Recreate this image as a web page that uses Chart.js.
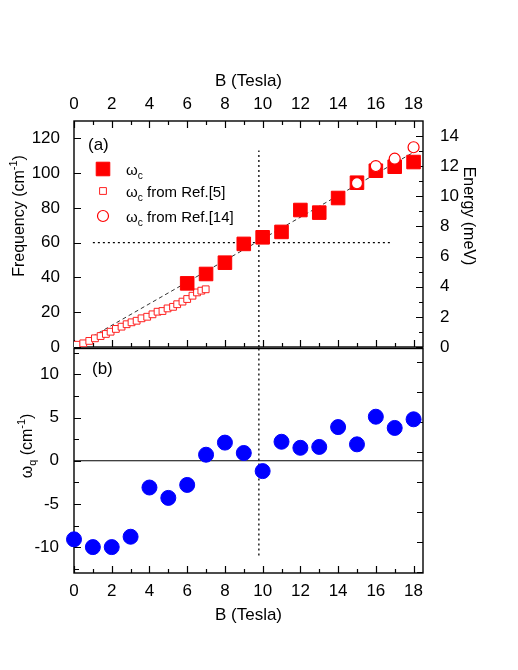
<!DOCTYPE html>
<html>
<head>
<meta charset="utf-8">
<title>Cyclotron frequency vs magnetic field</title>
<script src="https://cdn.jsdelivr.net/npm/chart.js@4.4.1/dist/chart.umd.min.js"></script>
<style>
  html, body { margin: 0; padding: 0; background: #fff; }
  #wrap { position: relative; width: 518px; height: 670px; }
  #wrap canvas { position: absolute; left: 0; }
  #topChart { top: 0; }
  #botChart { top: 340px; }
</style>
</head>
<body>
<div id="wrap">
  <canvas id="topChart" width="518" height="360"></canvas>
  <canvas id="botChart" width="518" height="330"></canvas>
</div>
<script>
// Panel (a): measured cyclotron frequency
const fieldB = [6, 7, 8, 9, 10, 11, 12, 13, 14, 15, 16, 17, 18];
const omegaC = [36.6, 42.0, 48.5, 59.3, 63.1, 66.2, 78.8, 77.3, 85.7, 94.5, 101.4, 103.7, 106.4];

// Ref.[14] points (open circles)
const ref14B = [15, 16, 17, 18];
const ref14Freq = [94.2, 104.1, 108.3, 114.9];

// Ref.[5] points (small open squares)
const ref5B = [0.15, 0.49, 0.81, 1.11, 1.41, 1.69, 1.94, 2.22, 2.52, 2.79, 3.05, 3.32, 3.58,
  3.88, 4.16, 4.43, 4.69, 4.96, 5.25, 5.47, 5.75, 6.0, 6.28, 6.52, 6.75, 6.98];
const ref5Freq = [1.3, 2.1, 3.5, 5.0, 6.3, 7.5, 8.8, 10.4, 11.7, 13.1, 14.2, 15.1, 16.5,
  17.4, 18.8, 20.3, 20.7, 22.2, 23.1, 24.6, 26.1, 27.6, 29.5, 31.4, 32.4, 33.2];

// guide lines in panel (a)
const fitB = [0, 18];
const fitFreq = [0, 112];
const hGuideB = [1.0, 16.8];
const hGuideFreq = [60, 60];
const vGuideB = [9.8, 9.8];
const vGuideFreq = [0, 113];

// Panel (b): omega_q
const qB = [0, 1, 2, 3, 4, 5, 6, 7, 8, 9, 10, 11, 12, 13, 14, 15, 16, 17, 18];
const omegaQ = [-9.1, -10.0, -10.0, -8.8, -3.1, -4.3, -2.8, 0.7, 2.1, 0.9, -1.2, 2.2, 1.5, 1.6, 3.9, 1.9, 5.1, 3.8, 4.8];
const vGuideOmega = [13, -11];
const zeroB = [0, 18.5];
const zeroOmega = [0, 0];

// tick values
const bTicks = [0, 2, 4, 6, 8, 10, 12, 14, 16, 18];
const bMinor = [1, 3, 5, 7, 9, 11, 13, 15, 17];
const freqTicks = [0, 20, 40, 60, 80, 100, 120];
const energyTicks = [0, 2, 4, 6, 8, 10, 12, 14];
const energyMinor = [1, 3, 5, 7, 9, 11, 13];
const omegaTicks = [-10, -5, 0, 5, 10];
const omegaMinor = [-12.5, -7.5, -2.5, 2.5, 7.5, 12.5];
const rightBTicks = [-8, -6, -4, -2, 0, 2, 4, 6];

const FONT = 'Liberation Sans, Arial, sans-serif';
const pts = (xs, ys) => xs.map((x, i) => ({ x: x, y: ys[i] }));
const setTicks = vals => s => { s.ticks = vals.map(v => ({ value: v })); };
// fixed axis sizes, no extra label overhang padding
const fixHeight = h => s => { s.height = h; s.paddingLeft = 0; s.paddingRight = 0; };
const fixWidth = w => s => { s.width = w; s.paddingTop = 0; s.paddingBottom = 0; };

// draws text made of normal / sub / sup pieces, centred on (x, y)
function richText(ctx, parts, x, y, size, align) {
  let total = 0;
  const widths = parts.map(p => {
    ctx.font = (p[1] === 'n' ? size : size * 0.68) + 'px ' + FONT;
    const w = ctx.measureText(p[0]).width;
    total += w;
    return w;
  });
  let cx = align === 'left' ? x : x - total / 2;
  ctx.textAlign = 'left';
  ctx.textBaseline = 'middle';
  parts.forEach((p, i) => {
    let dy = 0;
    if (p[1] === 'sub') dy = size * 0.32;
    if (p[1] === 'sup') dy = -size * 0.38;
    ctx.font = (p[1] === 'n' ? size : size * 0.68) + 'px ' + FONT;
    ctx.fillText(p[0], cx, y + dy);
    cx += widths[i];
  });
}

// frame around the plot area and inward tick marks
const framePlugin = {
  id: 'frame',
  beforeDatasetsDraw(chart, args, opts) {
    const { ctx, chartArea: a } = chart;
    ctx.save();
    ctx.strokeStyle = '#000';
    ctx.lineWidth = 1.4;
    ctx.strokeRect(a.left, a.top, a.right - a.left, a.bottom - a.top);
    ctx.lineWidth = 1.2;
    ctx.beginPath();
    (opts.marks || []).forEach(m => {
      const scale = chart.scales[m.scale];
      m.values.forEach(v => {
        const p = Math.round(scale.getPixelForValue(v)) + 0.5;
        if (m.edge === 'top') { ctx.moveTo(p, a.top); ctx.lineTo(p, a.top + m.len); }
        if (m.edge === 'bottom') { ctx.moveTo(p, a.bottom); ctx.lineTo(p, a.bottom - m.len); }
        if (m.edge === 'left') { ctx.moveTo(a.left, p); ctx.lineTo(a.left + m.len, p); }
        if (m.edge === 'right') { ctx.moveTo(a.right, p); ctx.lineTo(a.right - m.len, p); }
      });
    });
    ctx.stroke();
    ctx.restore();
  }
};

// panel letters, legend and axis titles with sub/superscripts
const notesPlugin = {
  id: 'notes',
  afterDraw(chart, args, opts) {
    const ctx = chart.ctx;
    ctx.save();
    ctx.fillStyle = '#000';
    (opts.texts || []).forEach(t => {
      ctx.save();
      ctx.translate(t.x, t.y);
      ctx.rotate(t.rot || 0);
      richText(ctx, t.parts, 0, 0, t.size, t.align || 'center');
      ctx.restore();
    });
    (opts.legend || []).forEach(item => {
      const ds = chart.data.datasets[item.index];
      ctx.fillStyle = ds.backgroundColor;
      ctx.strokeStyle = ds.borderColor;
      ctx.lineWidth = ds.borderWidth;
      Chart.helpers.drawPoint(ctx, { pointStyle: ds.pointStyle, radius: item.radius, borderWidth: ds.borderWidth, rotation: 0 }, item.x, item.y);
      ctx.fillStyle = '#000';
      richText(ctx, item.parts, item.x + 23, item.y + 2, 15, 'left');
    });
    ctx.restore();
  }
};

const tickFont = { family: FONT, size: 17 };

new Chart(document.getElementById('topChart'), {
  type: 'scatter',
  data: {
    datasets: [
      { label: 'wc Ref.[14]', data: pts(ref14B, ref14Freq), pointStyle: 'circle', pointRadius: 5.5,
        borderColor: '#ff0000', backgroundColor: '#ffffff', borderWidth: 1.2, order: 1 },
      { label: 'wc', data: pts(fieldB, omegaC), pointStyle: 'rect', pointRadius: 9.6,
        borderColor: '#ff0000', backgroundColor: '#ff0000', borderWidth: 1, order: 2 },
      { label: 'wc Ref.[5]', data: pts(ref5B, ref5Freq), pointStyle: 'rect', pointRadius: 4.8,
        borderColor: '#ff2020', backgroundColor: '#ffffff', borderWidth: 1, order: 3 },
      { label: 'fit', data: pts(fitB, fitFreq), showLine: true, pointRadius: 0,
        borderColor: '#333333', borderWidth: 1, borderDash: [4, 3], order: 4 },
      { label: 'h guide', data: pts(hGuideB, hGuideFreq), showLine: true, pointRadius: 0,
        borderColor: '#000000', borderWidth: 1.3, borderDash: [2, 3], order: 5 },
      { label: 'v guide', data: pts(vGuideB, vGuideFreq), showLine: true, pointRadius: 0,
        borderColor: '#000000', borderWidth: 1.3, borderDash: [2, 3], order: 5 }
    ]
  },
  options: {
    responsive: false,
    animation: false,
    devicePixelRatio: 1,
    layout: { padding: { top: 0, bottom: 13, left: 0, right: 0 } },
    plugins: {
      legend: { display: false },
      tooltip: { enabled: false },
      frame: {
        marks: [
          { scale: 'x', edge: 'top', values: bTicks, len: 7 },
          { scale: 'x', edge: 'top', values: bMinor, len: 4 },
          { scale: 'x', edge: 'bottom', values: bTicks, len: 7 },
          { scale: 'x', edge: 'bottom', values: bMinor, len: 4 },
          { scale: 'y', edge: 'left', values: freqTicks, len: 7 },
          { scale: 'y2', edge: 'right', values: energyTicks, len: 7 },
          { scale: 'y2', edge: 'right', values: energyMinor, len: 4 }
        ]
      },
      notes: {
        texts: [
          { x: 88, y: 145, parts: [['(a)', 'n']], size: 17, align: 'left' },
          { x: 20, y: 216, rot: -Math.PI / 2, size: 16, parts: [['Frequency (cm', 'n'], ['-1', 'sup'], [')', 'n']] },
          { x: 468, y: 216, rot: Math.PI / 2, size: 16, parts: [['Energy (meV)', 'n']] }
        ],
        legend: [
          { index: 1, x: 103, y: 169, radius: 9.6, parts: [['ω', 'n'], ['c', 'sub']] },
          { index: 2, x: 103, y: 191, radius: 4.8, parts: [['ω', 'n'], ['c', 'sub'], [' from Ref.[5]', 'n']] },
          { index: 0, x: 103, y: 216, radius: 5.5, parts: [['ω', 'n'], ['c', 'sub'], [' from Ref.[14]', 'n']] }
        ]
      }
    },
    scales: {
      x: {
        type: 'linear', position: 'top', min: 0, max: 18.5,
        afterBuildTicks: setTicks(bTicks),
        afterFit: fixHeight(121),
        grid: { display: false }, border: { display: false },
        ticks: { padding: -2, color: '#000', font: tickFont, maxRotation: 0 },
        title: { display: true, text: 'B (Tesla)', color: '#000', font: { family: FONT, size: 17 }, padding: { top: 71, bottom: 0 } }
      },
      y: {
        type: 'linear', position: 'left', min: 0, max: 130,
        afterBuildTicks: setTicks(freqTicks),
        afterFit: fixWidth(74),
        grid: { display: false }, border: { display: false },
        ticks: { padding: 6, color: '#000', font: tickFont }
      },
      y2: {
        type: 'linear', position: 'right', min: 0, max: 15,
        afterBuildTicks: setTicks(energyTicks),
        afterFit: fixWidth(95),
        grid: { display: false }, border: { display: false },
        ticks: { padding: 9, color: '#000', font: tickFont }
      }
    }
  },
  plugins: [framePlugin, notesPlugin]
});

new Chart(document.getElementById('botChart'), {
  type: 'scatter',
  data: {
    datasets: [
      { label: 'wq', data: pts(qB, omegaQ), pointStyle: 'circle', pointRadius: 7.5,
        borderColor: '#0000ff', backgroundColor: '#0000ff', borderWidth: 1, clip: false, order: 1 },
      { label: 'zero', data: pts(zeroB, zeroOmega), showLine: true, pointRadius: 0,
        borderColor: '#000000', borderWidth: 1.2, order: 2 },
      { label: 'v guide', data: pts(vGuideB, vGuideOmega), showLine: true, pointRadius: 0,
        borderColor: '#000000', borderWidth: 1.3, borderDash: [2, 3], order: 3 }
    ]
  },
  options: {
    responsive: false,
    animation: false,
    devicePixelRatio: 1,
    layout: { padding: { top: 7, bottom: 0, left: 0, right: 0 } },
    plugins: {
      legend: { display: false },
      tooltip: { enabled: false },
      frame: {
        marks: [
          { scale: 'x', edge: 'bottom', values: bTicks, len: 7 },
          { scale: 'x', edge: 'bottom', values: bMinor, len: 4 },
          { scale: 'y', edge: 'left', values: omegaTicks, len: 7 },
          { scale: 'y', edge: 'left', values: omegaMinor, len: 5 },
          { scale: 'y2', edge: 'right', values: rightBTicks, len: 6 }
        ]
      },
      notes: {
        texts: [
          { x: 92, y: 29, parts: [['(b)', 'n']], size: 17, align: 'left' },
          { x: 28, y: 106, rot: -Math.PI / 2, size: 16, parts: [['ω', 'n'], ['q', 'sub'], [' (cm', 'n'], ['-1', 'sup'], [')', 'n']] }
        ]
      }
    },
    scales: {
      x: {
        type: 'linear', position: 'bottom', min: 0, max: 18.5,
        afterBuildTicks: setTicks(bTicks),
        afterFit: fixHeight(97),
        grid: { display: false }, border: { display: false },
        ticks: { padding: 0, color: '#000', font: tickFont, maxRotation: 0 },
        title: { display: true, text: 'B (Tesla)', color: '#000', font: { family: FONT, size: 17 }, padding: { top: 0, bottom: 44 } }
      },
      y: {
        type: 'linear', position: 'left', min: -13, max: 13,
        afterBuildTicks: setTicks(omegaTicks),
        afterFit: fixWidth(74),
        grid: { display: false }, border: { display: false },
        ticks: { padding: 7, color: '#000', font: tickFont }
      },
      y2: {
        type: 'linear', position: 'right', min: -8.09, max: 6.91,
        afterBuildTicks: setTicks(rightBTicks),
        afterFit: fixWidth(95),
        grid: { display: false }, border: { display: false },
        ticks: { display: false }
      }
    }
  },
  plugins: [framePlugin, notesPlugin]
});
</script>
</body>
</html>
